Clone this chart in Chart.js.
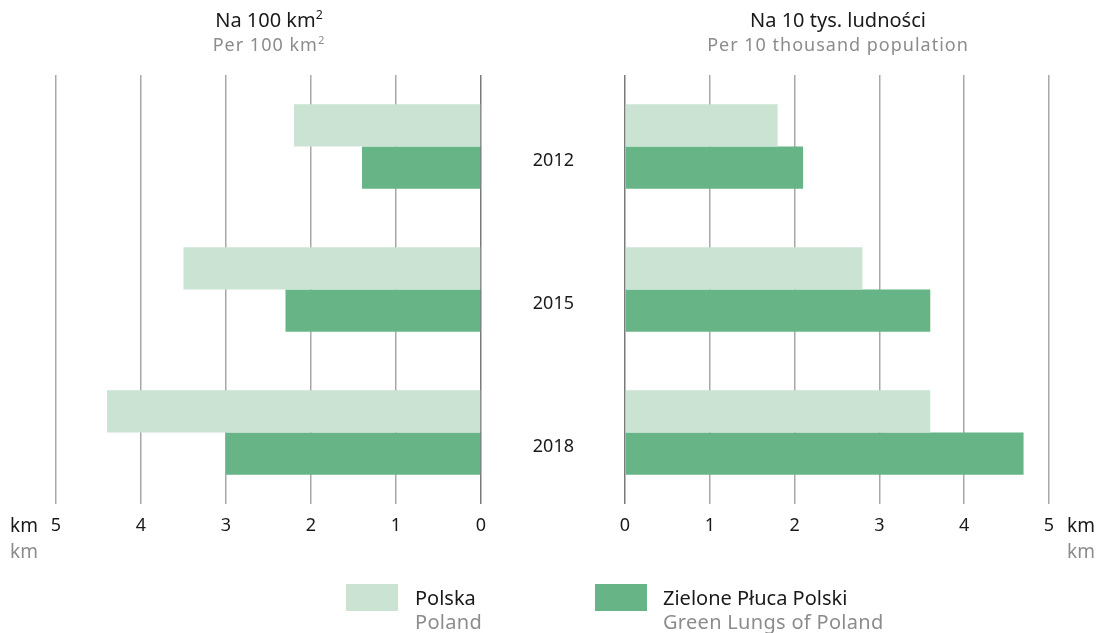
<!DOCTYPE html>
<html>
<head>
<meta charset="utf-8">
<script src="https://cdn.jsdelivr.net/npm/chart.js@4"></script>
<style>
  body { margin: 0; background: #fff; font-family: "Noto Sans", sans-serif; }
  #wrap { position: relative; width: 1099px; height: 633px; }
  canvas { position: absolute; left: 0; top: 0; }
  .t { position: absolute; font-size: 18px; white-space: nowrap; color: #1a1a1a; line-height: 24px; }
  .g { color: #8c8c8c; letter-spacing: 1px; }
  .head { font-size: 20px; }
  .head .g { font-size: 18px; }
  .lg { font-size: 20px; line-height: 24px; }
  .lg .g { letter-spacing: 0.3px; }
  sup { font-size: 0.62em; line-height: 0; vertical-align: 0.65em; }
  .box { position: absolute; width: 52px; height: 27px; }
</style>
</head>
<body>
<div id="wrap">
  <canvas id="left" width="1099" height="633"></canvas>
  <canvas id="right" width="1099" height="633"></canvas>

  <div class="t head" style="left:269px;top:8px;transform:translateX(-50%);text-align:center">Na 100 km<sup>2</sup><br><span class="g">Per 100 km<sup>2</sup></span></div>
  <div class="t head" style="left:838px;top:8px;transform:translateX(-50%);text-align:center">Na 10 tys. ludności<br><span class="g">Per 10 thousand population</span></div>

  <div class="t" style="left:10px;top:512px;line-height:26px;font-size:19px">km<br><span class="g" style="letter-spacing:0">km</span></div>
  <div class="t" style="left:1067px;top:512px;line-height:26px;font-size:19px">km<br><span class="g" style="letter-spacing:0">km</span></div>

  <div class="box" style="left:346px;top:584px;background:#cbe3d3"></div>
  <div class="t lg" style="left:415px;top:586px">Polska<br><span class="g">Poland</span></div>
  <div class="box" style="left:595px;top:584px;background:#67b587"></div>
  <div class="t lg" style="left:663px;top:586px">Zielone Płuca Polski<br><span class="g">Green Lungs of Poland</span></div>
</div>

<script>
// years shown between the two panels
const years = ['2012', '2015', '2018'];

// per 100 km2
const polskaArea = [2.2, 3.5, 4.4];
const zppArea = [1.4, 2.3, 3.0];

// per 10 thousand population
const polskaPop = [1.8, 2.8, 3.6];
const zppPop = [2.1, 3.6, 4.7];

const xTicks = [0, 1, 2, 3, 4, 5];

const lightGreen = '#cbe3d3';
const darkGreen = '#67b587';

Chart.defaults.font.family = '"Noto Sans", sans-serif';
Chart.defaults.color = '#1a1a1a';

function datasets(a, b) {
    return [
        { label: 'Polska', data: a, backgroundColor: lightGreen, borderWidth: 0, categoryPercentage: 0.59, barPercentage: 1 },
        { label: 'Zielone Płuca Polski', data: b, backgroundColor: darkGreen, borderWidth: 0, categoryPercentage: 0.59, barPercentage: 1 }
    ];
}

function xAxis(reverse) {
    return {
        type: 'linear',
        min: 0,
        max: 5,
        reverse: reverse,
        afterBuildTicks: scale => { scale.ticks = xTicks.map(v => ({ value: v })); },
        afterFit: scale => { scale.height = 40; },
        ticks: { font: { size: 18 }, padding: 11, color: '#1a1a1a' },
        grid: {
            drawTicks: false,
            lineWidth: 1.5,
            color: ctx => ctx.tick && ctx.tick.value === 0 ? '#7a7a7a' : '#a8a8a8'
        },
        border: { display: false }
    };
}

// left panel, axis runs 5 -> 0
new Chart(document.getElementById('left'), {
    type: 'bar',
    data: { labels: years, datasets: datasets(polskaArea, zppArea) },
    options: {
        indexAxis: 'y',
        responsive: false,
        animation: false,
        layout: { padding: { left: 56, right: 618, top: 75, bottom: 89 } },
        plugins: { legend: { display: false }, tooltip: { enabled: false } },
        scales: {
            x: xAxis(true),
            y: { display: false }
        }
    }
});

// right panel, year labels on its left side
new Chart(document.getElementById('right'), {
    type: 'bar',
    data: { labels: years, datasets: datasets(polskaPop, zppPop) },
    options: {
        indexAxis: 'y',
        responsive: false,
        animation: false,
        layout: { padding: { left: 525, right: 50, top: 75, bottom: 89 } },
        plugins: { legend: { display: false }, tooltip: { enabled: false } },
        scales: {
            x: xAxis(false),
            y: {
                afterFit: scale => { scale.width = 100; },
                ticks: { font: { size: 18 }, padding: 43, labelOffset: 14, color: '#1a1a1a' },
                grid: { display: false },
                border: { display: false }
            }
        }
    }
});
</script>
</body>
</html>
